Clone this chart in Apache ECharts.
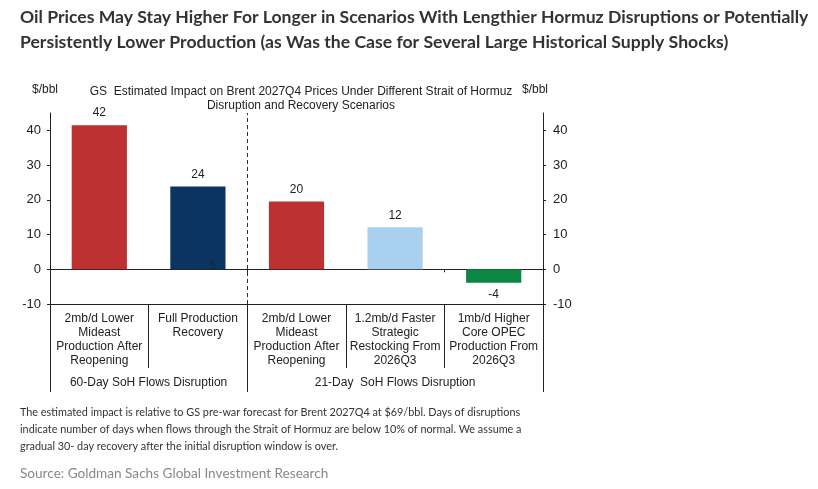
<!DOCTYPE html>
<html>
<head>
<meta charset="utf-8">
<script src="https://cdn.jsdelivr.net/npm/echarts@6/dist/echarts.min.js"></script>
<style>
html,body{margin:0;padding:0;background:#fff;}
#chart{width:818px;height:489px;}
</style>
</head>
<body>
<div id="chart"></div>
<script>
// ---- data ----
var categories = [
  '2mb/d Lower\nMideast\nProduction After\nReopening',
  'Full Production\nRecovery',
  '2mb/d Lower\nMideast\nProduction After\nReopening',
  '1.2mb/d Faster\nStrategic\nRestocking From\n2026Q3',
  '1mb/d Higher\nCore OPEC\nProduction From\n2026Q3'
];
var impactValues = [41.5, 23.8, 19.5, 12.1, -3.9];
var barColors = ['#BE3133', '#0B3460', '#BE3133', '#A9D0EE', '#0A8645'];
var groupNames = ['60-Day SoH Flows Disruption', '21-Day  SoH Flows Disruption'];
var groupSpans = [2, 3];
var strayLabel = [[1.65, 1]];
var yTicks = {min: -10, max: 45, interval: 10};

// derived group boundaries / centers (category units)
var groupBounds = [0], groupCenters = [];
groupSpans.forEach(function (s, i) {
  var start = groupBounds[groupBounds.length - 1];
  groupCenters.push(start + s / 2);
  groupBounds.push(start + s);
});

var FONT = 'Liberation Sans, Arial, sans-serif';
var chart = echarts.init(document.getElementById('chart'));
var gridPos = {left: 50, right: 275, top: 113, bottom: 185};

var option = {
  backgroundColor: '#fff',
  animation: false,
  textStyle: {fontFamily: FONT},
  title: [
    {
      text: 'Oil Prices May Stay Higher For Longer in Scenarios With Lengthier Hormuz Disruptions or Potentially\nPersistently Lower Production (as Was the Case for Several Large Historical Supply Shocks)',
      left: 15, top: 0,
      textStyle: {fontFamily: 'Lato', fontWeight: 'bold', fontSize: 17.6, color: '#333', lineHeight: 25}
    },
    {
      text: 'GS  Estimated Impact on Brent 2027Q4 Prices Under Different Strait of Hormuz\nDisruption and Recovery Scenarios',
      left: 296, top: 80, textAlign: 'center',
      textStyle: {fontFamily: FONT, fontWeight: 'normal', fontSize: 12, color: '#222', lineHeight: 14}
    },
    {
      text: 'The estimated impact is relative to GS pre-war forecast for Brent 2027Q4 at $69/bbl. Days of disruptions\nindicate number of days when flows through the Strait of Hormuz are below 10% of normal. We assume a\ngradual 30- day recovery after the initial disruption window is over.',
      left: 15, top: 399,
      textStyle: {fontFamily: 'Lato', fontWeight: 'normal', fontSize: 10.85, color: '#333', lineHeight: 17}
    },
    {
      text: 'Source: Goldman Sachs Global Investment Research',
      left: 15, top: 462,
      textStyle: {fontFamily: 'Lato', fontWeight: 'normal', fontSize: 13.6, color: '#888'}
    }
  ],
  grid: [
    Object.assign({}, gridPos),
    Object.assign({}, gridPos)
  ],
  xAxis: [
    {
      type: 'category', gridIndex: 0, data: categories, position: 'bottom',
      axisLine: {onZero: false, lineStyle: {color: '#222', width: 1}},
      axisTick: {show: true, alignWithLabel: false, length: 64, lineStyle: {color: '#222'}},
      axisLabel: {fontFamily: FONT, fontSize: 12, color: '#222', lineHeight: 14, margin: 8, interval: 0},
      splitLine: {show: false}
    },
    {
      type: 'category', gridIndex: 0, data: categories, position: 'top',
      axisLine: {onZero: true, lineStyle: {color: '#222', width: 1}},
      axisTick: {show: true, inside: true, alignWithLabel: false, length: 3, lineStyle: {color: '#222'}},
      axisLabel: {show: false},
      splitLine: {show: false}
    },
    {
      type: 'value', gridIndex: 1, min: 0, max: categories.length, position: 'bottom',
      axisLine: {show: false, onZero: false},
      axisTick: {show: true, customValues: groupBounds, length: 88, lineStyle: {color: '#222'}},
      axisLabel: {
        show: true, customValues: groupCenters, margin: 72,
        fontFamily: FONT, fontSize: 12, color: '#222', lineHeight: 14,
        formatter: function (v) {
          var i = groupCenters.indexOf(v);
          return i >= 0 ? groupNames[i] : '';
        }
      },
      splitLine: {show: false}
    }
  ],
  yAxis: [
    {
      type: 'value', gridIndex: 0, position: 'left',
      min: yTicks.min, max: yTicks.max, interval: yTicks.interval,
      name: '$/bbl', nameLocation: 'end', nameGap: 17,
      nameTextStyle: {fontFamily: FONT, fontSize: 12, color: '#222', align: 'center', padding: [0, 10, 0, 0]},
      axisLine: {show: true, onZero: false, lineStyle: {color: '#222'}},
      axisTick: {show: true, length: 3, lineStyle: {color: '#222'}},
      axisLabel: {fontFamily: FONT, fontSize: 13, color: '#222', margin: 9,
        showMaxLabel: false},
      splitLine: {show: false}
    },
    {
      type: 'value', gridIndex: 0, position: 'right',
      min: yTicks.min, max: yTicks.max, interval: yTicks.interval,
      name: '$/bbl', nameLocation: 'end', nameGap: 17,
      nameTextStyle: {fontFamily: FONT, fontSize: 12, color: '#222', align: 'center', padding: [0, 16, 0, 0]},
      axisLine: {show: true, onZero: false, lineStyle: {color: '#222'}},
      axisTick: {show: true, length: 3, lineStyle: {color: '#222'}},
      axisLabel: {fontFamily: FONT, fontSize: 13, color: '#222', margin: 10,
        showMaxLabel: false},
      splitLine: {show: false}
    },
    {
      type: 'value', gridIndex: 1, min: yTicks.min, max: yTicks.max, show: false
    }
  ],
  series: [
    {
      type: 'bar', xAxisIndex: 0, yAxisIndex: 0, barWidth: '56%', z: 1,
      data: impactValues.map(function (v, i) {
        return {
          value: v,
          itemStyle: {color: barColors[i]},
          label: {position: v < 0 ? 'bottom' : 'top'}
        };
      }),
      label: {
        show: true, distance: 6, fontFamily: FONT, fontSize: 12, color: '#222',
        formatter: function (p) { return String(Math.round(p.value)); }
      }
    },
    {
      type: 'scatter', xAxisIndex: 2, yAxisIndex: 2, symbolSize: 1,
      itemStyle: {color: 'rgba(0,0,0,0)'},
      data: strayLabel,
      label: {
        show: true, position: 'inside', fontFamily: FONT, fontSize: 12, color: '#222',
        formatter: function (p) { return String(p.value[1]); }
      },
      markLine: {
        silent: true, symbol: 'none',
        label: {show: false},
        lineStyle: {color: '#333', width: 1, type: [4, 3]},
        data: [{xAxis: groupBounds[1]}]
      }
    }
  ]
};
chart.setOption(option);
</script>
</body>
</html>
